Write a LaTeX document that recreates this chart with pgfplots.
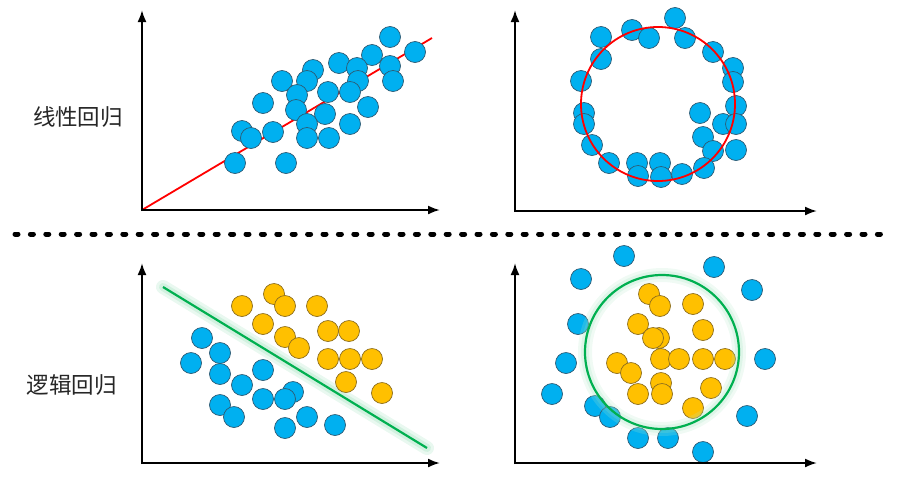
\documentclass[border=0pt]{standalone}
\usepackage{pgfplots}
\pgfplotsset{compat=1.18}
\usepackage{fontspec}
\newfontfamily\cjk{Noto Sans CJK SC}
\usetikzlibrary{arrows.meta}
\definecolor{ptblue}{HTML}{00B0F0}
\definecolor{ptblueedge}{HTML}{2E5A73}
\definecolor{ptorange}{HTML}{FFC000}
\definecolor{ptorangeedge}{HTML}{8C6D1F}
\definecolor{fitgreen}{HTML}{00B050}
\begin{document}
\begin{tikzpicture}
\begin{axis}[
  scale only axis, width=919pt, height=483pt,
  xmin=0, xmax=919, ymin=0, ymax=483, y dir=reverse,
  hide axis, clip=false, clip mode=individual,
  bluept/.style={only marks, mark=*, mark size=10.5pt, mark options={fill=ptblue, draw=ptblueedge, line width=0.7pt}},
  orpt/.style={only marks, mark=*, mark size=10.5pt, mark options={fill=ptorange, draw=ptorangeedge, line width=0.7pt}},
  axarrow/.style={line width=2pt, black, -{Latex[length=12pt,width=9pt]}},
]
% separator
\addplot[line width=5pt, line cap=round, dash pattern=on 3pt off 12.4pt, black] coordinates {(15,234) (890,234)};

% Panel 1: linear regression
\addplot[red, line width=1.8pt] coordinates {(142,210) (432,38)};
\addplot[bluept] coordinates {
(390,37) (415,52) (372,55) (339,63) (357,68) (390,66) (393,81)
(313,70) (307,81) (282,81) (358,81) (350,92) (328,92) (297,95)
(263,103) (296,110) (368,107) (325,114) (307,124) (350,124)
(242,131) (251,138) (273,132) (307,138) (329,138) (235,163) (286,163)};
\addplot[axarrow] coordinates {(142,211) (142,10)};
\addplot[axarrow] coordinates {(141,210) (440,210)};

% Panel 2: circle data
\addplot[bluept] coordinates {
(675,18) (632,30) (649,38) (685,38) (601,37) (601,59) (713,52)
(733,68) (733,82) (581,81) (584,113) (584,124) (700,113) (736,106)
(723,124) (736,124) (703,137) (713,151) (736,150) (592,145)
(609,163) (637,163) (660,163) (638,176) (661,177) (682,174) (704,168)};
\draw[red, line width=1.8pt] (axis cs:658,104) circle[radius=77pt];
\addplot[axarrow] coordinates {(515,212) (515,10)};
\addplot[axarrow] coordinates {(514,211) (817,211)};

% Panel 3: logistic regression, linear boundary
\addplot[fitgreen!25, opacity=0.35, line width=14pt, line cap=round] coordinates {(163,287) (427,448)};
\addplot[fitgreen!35, opacity=0.35, line width=8pt, line cap=round] coordinates {(163,287) (427,448)};
\addplot[orpt] coordinates {
(242,306) (274,294) (285,306) (317,306) (263,324) (328,331) (349,331)
(285,337) (299,348) (328,359) (350,359) (372,359) (346,382) (382,393)};
\addplot[bluept] coordinates {
(202,338) (220,353) (191,363) (220,374) (263,370) (242,385) (293,392)
(263,399) (285,399) (220,405) (234,417) (307,417) (285,428) (335,425)};
\addplot[fitgreen, line width=2.2pt] coordinates {(163,287) (427,448)};
\addplot[axarrow] coordinates {(142,464) (142,263)};
\addplot[axarrow] coordinates {(141,463) (440,463)};

% Panel 4: logistic regression, circular boundary
\addplot[bluept] coordinates {
(624,256) (714,267) (581,279) (752,290) (578,324) (566,363) (765,359)
(552,394) (595,406) (610,417) (747,416) (638,438) (668,438) (703,452)};
\addplot[orpt] coordinates {
(649,294) (660,306) (693,304) (638,324) (703,330) (659,338) (653,338)
(617,363) (631,373) (661,359) (679,359) (703,359) (725,359) (661,383)
(711,388) (638,394) (662,394) (693,408)};
\draw[fitgreen!30, opacity=0.2, line width=14pt] (axis cs:662,352) circle[radius=77pt];
\draw[fitgreen!40, opacity=0.2, line width=8pt] (axis cs:662,352) circle[radius=77pt];
\draw[fitgreen, line width=2.2pt] (axis cs:662,352) circle[radius=77pt];
\addplot[axarrow] coordinates {(515,464) (515,263)};
\addplot[axarrow] coordinates {(514,463) (817,463)};

% labels
\node[anchor=center, text=black!85, font=\cjk\fontsize{22.5}{26}\selectfont] at (axis cs:78,117) {线性回归};
\node[anchor=center, text=black!85, font=\cjk\fontsize{22.5}{26}\selectfont] at (axis cs:72,385) {逻辑回归};
\end{axis}
\pgfresetboundingbox
\useasboundingbox (0,0) rectangle (919pt,483pt);
\end{tikzpicture}
\end{document}
